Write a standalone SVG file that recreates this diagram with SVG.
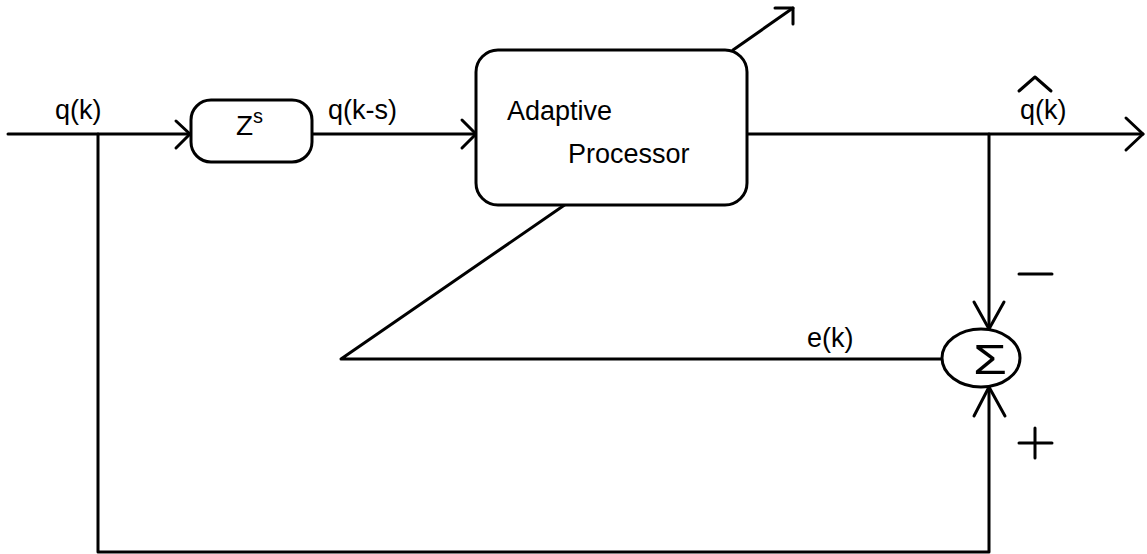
<svg xmlns="http://www.w3.org/2000/svg" width="1147" height="554" viewBox="0 0 1147 554">
  <style>
    .ln { fill: none; stroke: #000; stroke-width: 3; stroke-linecap: round; stroke-linejoin: round; }
    .box { fill: #fff; stroke: #000; stroke-width: 3; }
    .lbl { font-family: "Liberation Sans", Arial, sans-serif; font-size: 27px; fill: #000; }
  </style>
  <rect width="1147" height="554" fill="#fff"/>

  <!-- connectors -->
  <g id="connectors">
    <!-- input q(k) into delay -->
    <path class="ln" d="M8 134 H190"/>
    <path class="ln" d="M176 121 L190 134 L176 148"/>
    <!-- delay into adaptive processor -->
    <path class="ln" d="M312 134 H476"/>
    <path class="ln" d="M462 120 L476 134 L462 148"/>
    <!-- processor output -->
    <path class="ln" d="M747 134 H1143"/>
    <path class="ln" d="M1126 118 L1143 134 L1126 150"/>
    <!-- adjustment arrow across processor -->
    <path class="ln" d="M733 50 L793 8"/>
    <path class="ln" d="M775 8 L793 8 L793 24"/>
    <!-- output tap down to summer (minus) -->
    <path class="ln" d="M989 134 V329"/>
    <path class="ln" d="M974 302 L989 329 L1004 302"/>
    <!-- input tap down and along the bottom to summer (plus) -->
    <path class="ln" d="M98 134 V552 H989 V387"/>
    <path class="ln" d="M974 416 L989 387 L1005 416"/>
    <!-- error back to processor -->
    <path class="ln" d="M943 359 H341 L566 204"/>
  </g>

  <!-- delay block -->
  <g id="delay">
    <rect class="box" x="191" y="100" width="121" height="62" rx="20"/>
    <text class="lbl" x="236" y="135" style="font-size:28px">Z</text>
    <text class="lbl" x="253" y="123" style="font-size:20px">s</text>
  </g>

  <!-- adaptive processor -->
  <g id="processor">
    <rect class="box" x="476" y="50" width="271" height="155" rx="22"/>
    <text class="lbl" x="507" y="120">Adaptive</text>
    <text class="lbl" x="568" y="163">Processor</text>
  </g>

  <!-- summing junction -->
  <g id="summer">
    <ellipse class="box" cx="981" cy="358" rx="39" ry="29"/>
    <text class="lbl" x="973" y="374" style="font-size:43px" textLength="34" lengthAdjust="spacingAndGlyphs">Σ</text>
    <path class="ln" d="M1019 274 H1052"/>
    <path class="ln" d="M1019 443 H1052 M1035 428 V458" stroke-width="2.5"/>
  </g>

  <!-- signal labels -->
  <g id="labels">
    <text class="lbl" x="55" y="119">q(k)</text>
    <text class="lbl" x="328" y="119">q(k-s)</text>
    <text class="lbl" x="807" y="347">e(k)</text>
    <text class="lbl" x="1020" y="119">q(k)</text>
    <path class="ln" d="M1019 91 L1035 77 L1051 91" stroke-width="2.5"/>
  </g>
</svg>
